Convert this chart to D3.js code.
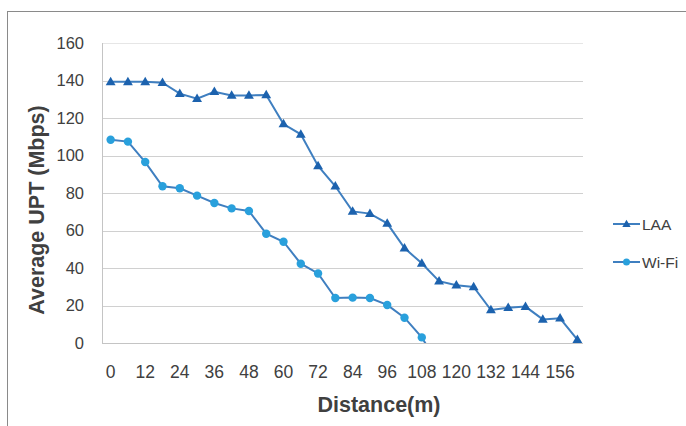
<!DOCTYPE html>
<html>
<head>
<meta charset="utf-8">
<script src="https://cdn.jsdelivr.net/npm/d3@7"></script>
<style>
  html, body { margin: 0; padding: 0; background: #fff; }
  svg { display: block; font-family: "Liberation Sans", Arial, sans-serif; }
</style>
</head>
<body>
<svg id="chart" width="686" height="426"></svg>
<script>
const distances = [0, 6, 12, 18, 24, 30, 36, 42, 48, 54, 60, 66, 72, 78, 84, 90, 96, 102, 108, 114, 120, 126, 132, 138, 144, 150, 156, 162];
const xTickLabels = [0, 12, 24, 36, 48, 60, 72, 84, 96, 108, 120, 132, 144, 156];
const yTicks = [0, 20, 40, 60, 80, 100, 120, 140, 160];
const laaValues = [139.3, 139.3, 139.3, 138.8, 133, 130.3, 134, 132, 132, 132.3, 116.8, 111.3, 94.4, 83.6, 70.2, 69, 63.8, 50.6, 42.5, 33, 30.8, 29.9, 17.6, 18.8, 19.4, 12.6, 13.2, 1.8];
const wifiValues = [108.4, 107.4, 96.5, 83.6, 82.5, 78.6, 74.7, 71.8, 70.4, 58.3, 54, 42.3, 37.1, 24, 24.2, 24, 20.3, 13.5, 3.0, -12];
const seriesNames = ["LAA", "Wi-Fi"];

const svg = d3.select("#chart");
const plot = { left: 102, right: 586, top: 43, bottom: 343 };

const x = d3.scaleBand().domain(distances).range([plot.left, plot.right]);
const y = d3.scaleLinear().domain([0, 160]).range([plot.bottom, plot.top]);
const cx = d => x(d) + x.bandwidth() / 2;

// outer frame
svg.append("rect").attr("x", 7.5).attr("y", 11.5).attr("width", 700).attr("height", 430)
  .attr("fill", "none").attr("stroke", "#8a8a8a").attr("stroke-width", 1);

// gridlines
svg.append("g").selectAll("line").data(yTicks.filter(t => t > 0)).join("line")
  .attr("x1", plot.left).attr("x2", plot.right - 3)
  .attr("y1", d => Math.round(y(d)) + 0.5).attr("y2", d => Math.round(y(d)) + 0.5)
  .attr("stroke", d => d === 160 ? "#e6e6e6" : "#d0d0d0").attr("stroke-width", 1);

// axes lines
svg.append("line").attr("x1", plot.left + 0.5).attr("x2", plot.left + 0.5)
  .attr("y1", plot.top).attr("y2", plot.bottom).attr("stroke", "#c4c4c4");
svg.append("line").attr("x1", plot.left).attr("x2", plot.right - 3)
  .attr("y1", plot.bottom + 0.5).attr("y2", plot.bottom + 0.5).attr("stroke", "#c4c4c4");

// y tick labels via axis
const yAxis = svg.append("g").attr("transform", `translate(${plot.left},0)`)
  .call(d3.axisLeft(y).tickValues(yTicks).tickSize(0).tickPadding(18));
yAxis.select(".domain").remove();
yAxis.selectAll("text").attr("font-size", 16.5).attr("fill", "#404040")
  .attr("font-family", "Liberation Sans, Arial, sans-serif");

// x tick labels via axis
const xAxis = svg.append("g").attr("transform", `translate(0,${plot.bottom})`)
  .call(d3.axisBottom(x).tickValues(xTickLabels).tickSize(0).tickPadding(23));
xAxis.select(".domain").remove();
xAxis.selectAll("text").attr("font-size", 17.5).attr("fill", "#404040")
  .attr("font-family", "Liberation Sans, Arial, sans-serif");

// axis titles
svg.append("text").attr("x", 379).attr("y", 412).attr("text-anchor", "middle")
  .attr("font-size", 21.5).attr("font-weight", "bold").attr("fill", "#404040").text("Distance(m)");
svg.append("text").attr("transform", "translate(44,210) rotate(-90)").attr("text-anchor", "middle")
  .attr("font-size", 21.5).attr("font-weight", "bold").attr("fill", "#404040").text("Average UPT (Mbps)");

// clip
svg.append("defs").append("clipPath").attr("id", "clip").append("rect")
  .attr("x", plot.left).attr("y", plot.top - 10).attr("width", plot.right - plot.left).attr("height", plot.bottom - plot.top + 10);

const line = d3.line().x(d => cx(d[0])).y(d => y(d[1]));
const laaData = distances.map((d, i) => [d, laaValues[i]]);
const wifiData = wifiValues.map((v, i) => [distances[i], v]);

const g = svg.append("g").attr("clip-path", "url(#clip)");
const lineColor = "#3f7fc0";
g.append("path").datum(wifiData).attr("d", line).attr("fill", "none")
  .attr("stroke", lineColor).attr("stroke-width", 2);
g.append("path").datum(laaData).attr("d", line).attr("fill", "none")
  .attr("stroke", lineColor).attr("stroke-width", 2);

g.selectAll("circle.wifi").data(wifiData.filter(d => d[1] >= 0)).join("circle")
  .attr("class", "wifi").attr("cx", d => cx(d[0])).attr("cy", d => y(d[1])).attr("r", 4.2)
  .attr("fill", "#29a0dc");
g.selectAll("path.laa").data(laaData).join("path").attr("class", "laa")
  .attr("d", d3.symbol().type(d3.symbolTriangle).size(42))
  .attr("transform", d => `translate(${cx(d[0])},${y(d[1]) + 0.5})`)
  .attr("fill", "#1c62ae");

// legend
const legend = svg.append("g");
const ly = [224, 262];
seriesNames.forEach((name, i) => {
  legend.append("line").attr("x1", 613).attr("x2", 640).attr("y1", ly[i]).attr("y2", ly[i])
    .attr("stroke", lineColor).attr("stroke-width", 2);
  if (i === 0) {
    legend.append("path").attr("d", d3.symbol().type(d3.symbolTriangle).size(30))
      .attr("transform", `translate(626.5,${ly[i] + 0.5})`).attr("fill", "#1c62ae");
  } else {
    legend.append("circle").attr("cx", 626.5).attr("cy", ly[i]).attr("r", 3.5).attr("fill", "#29a0dc");
  }
  legend.append("text").attr("x", 642).attr("y", ly[i] + 5.5).attr("font-size", 15.5)
    .attr("fill", "#404040").text(name);
});
</script>
</body>
</html>
